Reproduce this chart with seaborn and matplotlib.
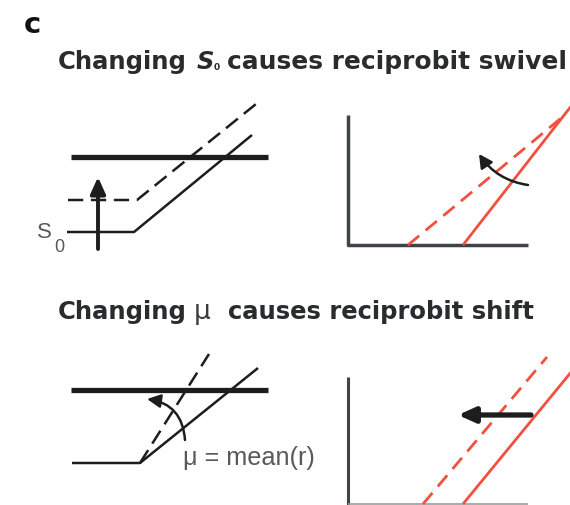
import matplotlib
matplotlib.use("Agg")
import matplotlib.pyplot as plt
import seaborn as sns
from matplotlib.patches import FancyArrowPatch

sns.set_theme(style="white")
plt.rcParams['font.family'] = ['DejaVu Sans']
plt.rcParams['lines.scale_dashes'] = False

# ---------------- schematic data (canvas units, y downward) ----------------
# Panel 1 (left): S0 shift
p1_thresh_x = [71, 268]
p1_thresh_y = [157, 157]
p1_solid_x = [67, 134, 252]
p1_solid_y = [232, 232, 135]
p1_dash_x = [68, 137, 256]
p1_dash_y = [200, 200, 104]

# Panel 2 (right): reciprobit swivel
p2_axis_x = [348, 348, 528]
p2_axis_y = [115, 245, 245]
p2_red_solid_x = [463, 572]
p2_red_solid_y = [245, 105]
p2_red_dash_x = [408, 566]
p2_red_dash_y = [245, 114]

# Panel 3 (left): mu change
p3_thresh_x = [71, 268]
p3_thresh_y = [390, 390]
p3_solid_x = [72, 140, 258]
p3_solid_y = [463, 463, 368]
p3_dash_x = [140, 209]
p3_dash_y = [463, 354]

# Panel 4 (right): reciprobit shift
p4_axis_x = [348, 348]
p4_axis_y = [377, 505]
p4_base_x = [348, 528]
p4_base_y = [504, 504]
p4_red_solid_x = [463, 572]
p4_red_solid_y = [504, 371]
p4_red_dash_x = [423, 547]
p4_red_dash_y = [504, 357]

titles = ["Changing", "causes reciprobit swivel", "causes reciprobit shift"]

BLACK = "#1d1d1f"
AXC = "#3f4448"
RED = "#f2503e"
TXT = "#2a2b2d"
GREY = "#58595b"

fig = plt.figure(figsize=(5.7, 5.05), dpi=100)
ax = fig.add_axes([0, 0, 1, 1])
ax.set_xlim(0, 570)
ax.set_ylim(505, 0)
ax.axis("off")

def seg(x, y, color, lw, ls="-"):
    sns.lineplot(x=x, y=y, sort=False, estimator=None, color=color,
                 linewidth=lw, linestyle=ls, ax=ax, solid_capstyle="butt",
                 dash_capstyle="butt")

blackdash = (0, (11.0, 5.5))
reddash = (0, (10.5, 6.0))

# Panel 1
seg(p1_thresh_x, p1_thresh_y, BLACK, 3.8)
seg(p1_solid_x, p1_solid_y, BLACK, 1.8)
seg(p1_dash_x, p1_dash_y, BLACK, 1.8, blackdash)
# Panel 2
seg(p2_axis_x, p2_axis_y, AXC, 2.5)
seg(p2_red_dash_x, p2_red_dash_y, RED, 2.0, reddash)
seg(p2_red_solid_x, p2_red_solid_y, RED, 2.0)
# Panel 3
seg(p3_thresh_x, p3_thresh_y, BLACK, 3.8)
seg(p3_solid_x, p3_solid_y, BLACK, 1.8)
seg(p3_dash_x, p3_dash_y, BLACK, 1.8, blackdash)
# Panel 4
seg(p4_axis_x, p4_axis_y, AXC, 2.2)
seg(p4_base_x, p4_base_y, "#9a9c9e", 1.2)
seg(p4_red_dash_x, p4_red_dash_y, RED, 2.0, reddash)
seg(p4_red_solid_x, p4_red_solid_y, RED, 2.0)

# Arrows
def arrow(start, end, lw, hl, hw, rad=0.0, color=BLACK):
    a = FancyArrowPatch(start, end, connectionstyle=f"arc3,rad={rad}",
                        arrowstyle=f"-|>,head_length={hl},head_width={hw}",
                        color=color, linewidth=lw, shrinkA=0, shrinkB=0,
                        mutation_scale=10, zorder=5)
    ax.add_patch(a)

arrow((98, 249), (98, 177), 2.8, 1.0, 0.45)
arrow((528, 185), (479, 154), 1.8, 0.8, 0.42, rad=-0.22)
arrow((185, 440), (147, 399), 1.8, 0.8, 0.4, rad=0.4)
arrow((531, 415), (458, 415), 3.8, 1.0, 0.45)

# Texts
ax.text(24, 33, "c", fontsize=21, fontweight="bold", color="#111111",
        va="baseline", ha="left")
tfs = 17.5
ax.text(58, 69, titles[0], fontsize=tfs, fontweight="bold", color=TXT,
        va="baseline", ha="left")
ax.text(197, 69, "S", fontsize=tfs, fontweight="bold", fontstyle="italic",
        color=TXT, va="baseline", ha="left")
ax.text(214, 70, "0", fontsize=6.5, fontweight="bold", color=TXT,
        va="baseline", ha="left")
ax.text(227, 69, titles[1], fontsize=17.9, fontweight="bold", color=TXT,
        va="baseline", ha="left")

ax.text(58, 319, titles[0], fontsize=tfs, fontweight="bold", color=TXT,
        va="baseline", ha="left")
ax.text(194, 319, "\u03bc", fontsize=19, color="#3a3b3d",
        family="DejaVu Sans", va="baseline", ha="left")
ax.text(228, 319, titles[2], fontsize=tfs, fontweight="bold", color=TXT,
        va="baseline", ha="left")

ax.text(37, 238, "S", fontsize=16, family="Liberation Sans", color=GREY,
        va="baseline", ha="left")
ax.text(54, 252, "0", fontsize=13, family="Liberation Sans", color=GREY,
        va="baseline", ha="left")
ax.text(183, 465, "\u03bc = mean(r)", fontsize=18.2, family="Liberation Sans",
        color=GREY, va="baseline", ha="left")

fig.savefig("out.png", dpi=100)
